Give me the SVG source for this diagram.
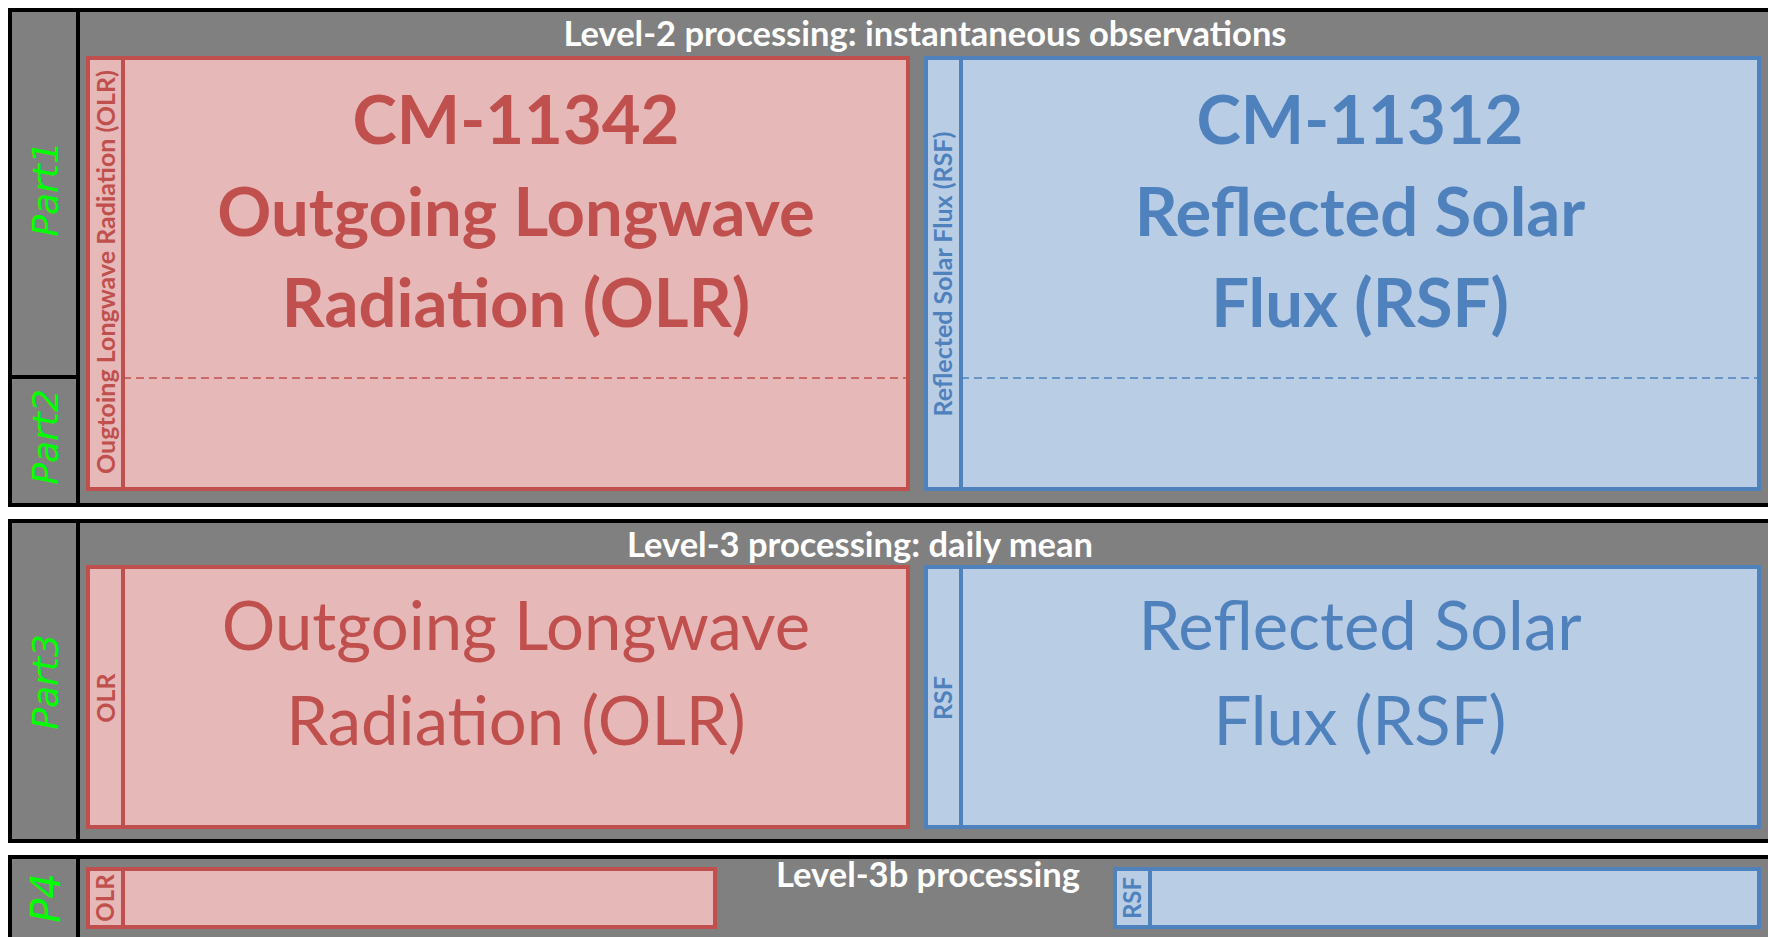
<svg xmlns="http://www.w3.org/2000/svg" width="1768" height="937" viewBox="0 0 1768 937">
<style>
.panel{fill:#808080;stroke:#000;stroke-width:4}
.div{stroke:#000;stroke-width:4}
.rbox{fill:#e6b9b8;stroke:#c0504d;stroke-width:4}
.bbox{fill:#b9cde5;stroke:#4f81bd;stroke-width:4}
.rdash{stroke:#c0504d;stroke-width:1.5;stroke-dasharray:8 5}
.bdash{stroke:#4f81bd;stroke-width:1.5;stroke-dasharray:8 5}
.title{font-family:Lato,"Open Sans",sans-serif;font-weight:bold;font-size:34.5px;fill:#fff;text-anchor:middle}
.part{font-family:"DejaVu Sans",sans-serif;font-style:italic;font-size:36px;fill:#00ff00;text-anchor:middle}
.big{font-family:Lato,"Open Sans",sans-serif;font-size:67px;text-anchor:middle}
.b{font-weight:bold}
.vl{font-family:Lato,"Open Sans",sans-serif;font-weight:bold;font-size:25px;text-anchor:middle}
.vs{font-family:Lato,"Open Sans",sans-serif;font-weight:bold;font-size:24px;text-anchor:middle}
.red{fill:#c0504d}
.blue{fill:#4f81bd}
</style>
<rect width="1768" height="937" fill="#fff"/>
<g id="panel-level2">
  <rect class="panel" x="10" y="10" width="1800" height="495"/>
  <line class="div" x1="78" y1="10" x2="78" y2="505"/>
  <line class="div" x1="10" y1="377" x2="78" y2="377"/>
  <text class="part" transform="translate(58,189) rotate(-90)">Part1</text>
  <text class="part" transform="translate(58,437) rotate(-90)">Part2</text>
  <text class="title" x="925" y="46">Level-2 processing: instantaneous observations</text>
</g>
<g id="panel-level3">
  <rect class="panel" x="10" y="521" width="1800" height="320"/>
  <line class="div" x1="78" y1="521" x2="78" y2="841"/>
  <text class="part" transform="translate(58,682) rotate(-90)">Part3</text>
  <text class="title" x="860" y="557">Level-3 processing: daily mean</text>
</g>
<g id="panel-level3b">
  <rect class="panel" x="10" y="857" width="1800" height="90"/>
  <line class="div" x1="78" y1="857" x2="78" y2="937"/>
  <text class="part" style="font-size:40px" transform="translate(60,898) rotate(-90)">P4</text>
  <text class="title" x="928" y="887">Level-3b processing</text>
</g>
<g id="olr-l2">
  <rect class="rbox" x="88" y="58" width="820" height="431"/>
  <rect class="rbox" x="88" y="58" width="35" height="431"/>
  <line class="rdash" x1="123" y1="378" x2="906" y2="378"/>
  <text class="vl red" transform="translate(115,272) rotate(-90)">Ougtoing Longwave Radiation (OLR)</text>
  <text class="big b red" x="516" y="144">CM-11342</text>
  <text class="big b red" x="516" y="236">Outgoing Longwave</text>
  <text class="big b red" x="516" y="327">Radiation (OLR)</text>
</g>
<g id="rsf-l2">
  <rect class="bbox" x="926" y="58" width="833" height="431"/>
  <rect class="bbox" x="926" y="58" width="35" height="431"/>
  <line class="bdash" x1="961" y1="378" x2="1757" y2="378"/>
  <text class="vl blue" transform="translate(952,274) rotate(-90)">Reflected Solar Flux (RSF)</text>
  <text class="big b blue" x="1360" y="144">CM-11312</text>
  <text class="big b blue" x="1360" y="236">Reflected Solar</text>
  <text class="big b blue" x="1360" y="327">Flux (RSF)</text>
</g>
<g id="olr-l3">
  <rect class="rbox" x="88" y="567" width="820" height="260"/>
  <rect class="rbox" x="88" y="567" width="35" height="260"/>
  <text class="vl red" transform="translate(115,698) rotate(-90)">OLR</text>
  <text class="big red" x="516" y="650">Outgoing Longwave</text>
  <text class="big red" x="516" y="745">Radiation (OLR)</text>
</g>
<g id="rsf-l3">
  <rect class="bbox" x="926" y="567" width="833" height="260"/>
  <rect class="bbox" x="926" y="567" width="35" height="260"/>
  <text class="vl blue" transform="translate(952,698) rotate(-90)">RSF</text>
  <text class="big blue" x="1360" y="650">Reflected Solar</text>
  <text class="big blue" x="1360" y="745">Flux (RSF)</text>
</g>
<g id="olr-l3b">
  <rect class="rbox" x="88" y="869" width="627" height="58"/>
  <rect class="rbox" x="88" y="869" width="35" height="58"/>
  <text class="vs red" transform="translate(114,898) rotate(-90)">OLR</text>
</g>
<g id="rsf-l3b">
  <rect class="bbox" x="1115" y="869" width="644" height="58"/>
  <rect class="bbox" x="1115" y="869" width="35" height="58"/>
  <text class="vs blue" transform="translate(1141,898) rotate(-90)">RSF</text>
</g>
</svg>
